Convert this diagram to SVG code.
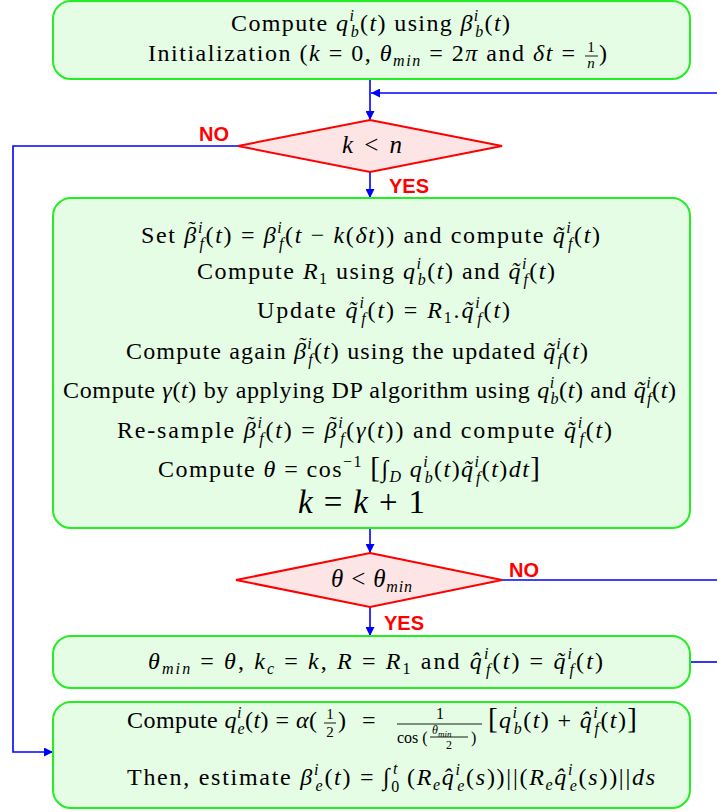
<svg xmlns="http://www.w3.org/2000/svg" width="717" height="812" viewBox="0 0 717 812">
<style>
.box{fill:#e5fde5;stroke:#22ee22;stroke-width:2}
.dia{fill:#fde5e5;stroke:#ff0000;stroke-width:2}
.con{fill:none;stroke:#0000ff;stroke-width:1.6}
.ts{font-family:"Liberation Serif","Times New Roman",serif;font-size:24px;fill:#000}
.i{font-style:italic}
.sm{font-size:16px}
.til{font-family:"Liberation Serif","Times New Roman",serif;font-size:22px;fill:#000;text-anchor:middle}
.lab{font-family:"Liberation Sans",Arial,sans-serif;font-size:20px;font-weight:bold;fill:#ff0000}
.fl{stroke:#000;stroke-width:0.9}
</style>
<defs>
<marker id="ah" viewBox="0 0 10 10" refX="10" refY="5" markerWidth="10" markerHeight="9" markerUnits="userSpaceOnUse" orient="auto">
<path d="M0,0 L10,5 L0,10 z" fill="#0000ff"/>
</marker>
</defs>

<g id="connectors">
<path class="con" d="M370,79 V120" marker-end="url(#ah)"/>
<path class="con" d="M717,93 H371" marker-end="url(#ah)"/>
<path class="con" d="M370,172 V198" marker-end="url(#ah)"/>
<path class="con" d="M238,146 H13 V752 H53" marker-end="url(#ah)"/>
<path class="con" d="M370,528 V553" marker-end="url(#ah)"/>
<path class="con" d="M502,580 H717"/>
<path class="con" d="M370,607 V636" marker-end="url(#ah)"/>
<path class="con" d="M690,662 H717"/>
</g>

<g id="init">
<rect class="box" x="53" y="1" width="637" height="78" rx="18"/>
<text class="ts" x="231" y="31" textLength="279" lengthAdjust="spacing">Compute <tspan class="i">q</tspan><tspan class="i sm" dy="-10">i</tspan><tspan class="i sm" dx="-4.5" dy="16">b</tspan><tspan dy="-6">(</tspan><tspan class="i">t</tspan>) using <tspan class="i">β</tspan><tspan class="i sm" dy="-10">i</tspan><tspan class="i sm" dx="-4.5" dy="16">b</tspan><tspan dy="-6">(</tspan><tspan class="i">t</tspan>)</text>
<text class="ts" x="148" y="61" textLength="427" lengthAdjust="spacing">Initialization (<tspan class="i">k</tspan> = 0, <tspan class="i">θ</tspan><tspan class="i sm" dy="5">min</tspan><tspan dy="-5"> = 2</tspan><tspan class="i">π</tspan> and <tspan class="i">δt</tspan> =</text>
<text class="ts" x="591" y="52" style="font-size:15px" text-anchor="middle">1</text>
<line class="fl" x1="585" y1="56" x2="598" y2="56"/>
<text class="ts i" x="591" y="68" style="font-size:15px" text-anchor="middle">n</text>
<text class="ts" x="599" y="61">)</text>
</g>

<g id="cond1">
<polygon class="dia" points="370,120 502,146 370,172 238,146"/>
<text class="ts" x="342" y="153" style="font-size:25px" textLength="60" lengthAdjust="spacing"><tspan class="i">k</tspan> &lt; <tspan class="i">n</tspan></text>
</g>
<text class="lab" x="199" y="141">NO</text>
<text class="lab" x="389" y="193">YES</text>

<g id="loop">
<rect class="box" x="53" y="198" width="637" height="330" rx="18"/>
<text class="ts" x="141" y="243" textLength="459" lengthAdjust="spacing">Set <tspan class="i">β</tspan><tspan class="i sm" dy="-10">i</tspan><tspan class="i sm" dx="-4.5" dy="16">f</tspan><tspan dy="-6">(</tspan><tspan class="i">t</tspan>) = <tspan class="i">β</tspan><tspan class="i sm" dy="-10">i</tspan><tspan class="i sm" dx="-4.5" dy="16">f</tspan><tspan dy="-6">(</tspan><tspan class="i">t</tspan> − <tspan class="i">k</tspan>(<tspan class="i">δt</tspan>)) and compute <tspan class="i">q̃</tspan><tspan class="i sm" dy="-10">i</tspan><tspan class="i sm" dx="-4.5" dy="16">f</tspan><tspan dy="-6">(</tspan><tspan class="i">t</tspan>)</text>
<text class="til" x="192" y="236">˜</text>
<text class="ts" x="197" y="279" textLength="358" lengthAdjust="spacing">Compute <tspan class="i">R</tspan><tspan class="sm" dy="5">1</tspan><tspan dy="-5"> using </tspan><tspan class="i">q</tspan><tspan class="i sm" dy="-10">i</tspan><tspan class="i sm" dx="-4.5" dy="16">b</tspan><tspan dy="-6">(</tspan><tspan class="i">t</tspan>) and <tspan class="i">q̃</tspan><tspan class="i sm" dy="-10">i</tspan><tspan class="i sm" dx="-4.5" dy="16">f</tspan><tspan dy="-6">(</tspan><tspan class="i">t</tspan>)</text>
<text class="ts" x="257" y="318" textLength="253" lengthAdjust="spacing">Update <tspan class="i">q̃</tspan><tspan class="i sm" dy="-10">i</tspan><tspan class="i sm" dx="-4.5" dy="16">f</tspan><tspan dy="-6">(</tspan><tspan class="i">t</tspan>) = <tspan class="i">R</tspan><tspan class="sm" dy="5">1</tspan><tspan dy="-5">.</tspan><tspan class="i">q̃</tspan><tspan class="i sm" dy="-10">i</tspan><tspan class="i sm" dx="-4.5" dy="16">f</tspan><tspan dy="-6">(</tspan><tspan class="i">t</tspan>)</text>
<text class="ts" x="126" y="359" textLength="462" lengthAdjust="spacing">Compute again <tspan class="i">β</tspan><tspan class="i sm" dy="-10">i</tspan><tspan class="i sm" dx="-4.5" dy="16">f</tspan><tspan dy="-6">(</tspan><tspan class="i">t</tspan>) using the updated <tspan class="i">q̃</tspan><tspan class="i sm" dy="-10">i</tspan><tspan class="i sm" dx="-4.5" dy="16">f</tspan><tspan dy="-6">(</tspan><tspan class="i">t</tspan>)</text>
<text class="til" x="303" y="352">˜</text>
<text class="ts" x="63" y="398" textLength="613" lengthAdjust="spacing">Compute <tspan class="i">γ</tspan>(<tspan class="i">t</tspan>) by applying DP algorithm using <tspan class="i">q</tspan><tspan class="i sm" dy="-10">i</tspan><tspan class="i sm" dx="-4.5" dy="16">b</tspan><tspan dy="-6">(</tspan><tspan class="i">t</tspan>) and <tspan class="i">q̃</tspan><tspan class="i sm" dy="-10">i</tspan><tspan class="i sm" dx="-4.5" dy="16">f</tspan><tspan dy="-6">(</tspan><tspan class="i">t</tspan>)</text>
<text class="ts" x="117" y="438" textLength="495" lengthAdjust="spacing">Re-sample <tspan class="i">β</tspan><tspan class="i sm" dy="-10">i</tspan><tspan class="i sm" dx="-4.5" dy="16">f</tspan><tspan dy="-6">(</tspan><tspan class="i">t</tspan>) = <tspan class="i">β</tspan><tspan class="i sm" dy="-10">i</tspan><tspan class="i sm" dx="-4.5" dy="16">f</tspan><tspan dy="-6">(</tspan><tspan class="i">γ</tspan>(<tspan class="i">t</tspan>)) and compute <tspan class="i">q̃</tspan><tspan class="i sm" dy="-10">i</tspan><tspan class="i sm" dx="-4.5" dy="16">f</tspan><tspan dy="-6">(</tspan><tspan class="i">t</tspan>)</text>
<text class="til" x="251" y="431">˜</text>
<text class="til" x="333" y="431">˜</text>
<text class="ts" x="158" y="477" textLength="382" lengthAdjust="spacing">Compute <tspan class="i">θ</tspan> = cos<tspan class="sm" dy="-10">−1</tspan><tspan dy="10"> </tspan><tspan font-size="29">[</tspan>∫<tspan class="i sm" dy="5">D</tspan><tspan dy="-5"> </tspan><tspan class="i">q</tspan><tspan class="i sm" dy="-10">i</tspan><tspan class="i sm" dx="-4.5" dy="16">b</tspan><tspan dy="-6">(</tspan><tspan class="i">t</tspan>)<tspan class="i">q̃</tspan><tspan class="i sm" dy="-10">i</tspan><tspan class="i sm" dx="-4.5" dy="16">f</tspan><tspan dy="-6">(</tspan><tspan class="i">t</tspan>)<tspan class="i">dt</tspan><tspan font-size="29">]</tspan></text>
<text class="ts" x="298" y="513" style="font-size:33px" textLength="127" lengthAdjust="spacing"><tspan class="i">k</tspan> = <tspan class="i">k</tspan> + 1</text>
</g>

<g id="cond2">
<polygon class="dia" points="370,553 502,580 370,607 236,580"/>
<text class="ts" x="331" y="587" style="font-size:25px" textLength="81" lengthAdjust="spacing"><tspan class="i">θ</tspan> &lt; <tspan class="i">θ</tspan><tspan class="i sm" dy="5">min</tspan></text>
</g>
<text class="lab" x="509" y="577">NO</text>
<text class="lab" x="384" y="630">YES</text>

<g id="update">
<rect class="box" x="53" y="636" width="637" height="52" rx="18"/>
<text class="ts" x="148" y="669" textLength="455" lengthAdjust="spacing"><tspan class="i">θ</tspan><tspan class="i sm" dy="5">min</tspan><tspan dy="-5"> = </tspan><tspan class="i">θ</tspan>, <tspan class="i">k</tspan><tspan class="i sm" dy="5">c</tspan><tspan dy="-5"> = </tspan><tspan class="i">k</tspan>, <tspan class="i">R</tspan> = <tspan class="i">R</tspan><tspan class="sm" dy="5">1</tspan><tspan dy="-5"> and </tspan><tspan class="i">q̂</tspan><tspan class="i sm" dy="-10">i</tspan><tspan class="i sm" dx="-4.5" dy="16">f</tspan><tspan dy="-6">(</tspan><tspan class="i">t</tspan>) = <tspan class="i">q̃</tspan><tspan class="i sm" dy="-10">i</tspan><tspan class="i sm" dx="-4.5" dy="16">f</tspan><tspan dy="-6">(</tspan><tspan class="i">t</tspan>)</text>
</g>

<g id="estimate">
<rect class="box" x="53" y="702" width="637" height="106" rx="18"/>
<text class="ts" x="127" y="728" textLength="190" lengthAdjust="spacing">Compute <tspan class="i">q</tspan><tspan class="i sm" dy="-10">i</tspan><tspan class="i sm" dx="-4.5" dy="16">e</tspan><tspan dy="-6">(</tspan><tspan class="i">t</tspan>) = <tspan class="i">α</tspan>(</text>
<text class="ts" x="330" y="719" style="font-size:15px" text-anchor="middle">1</text>
<line class="fl" x1="324" y1="723" x2="336" y2="723"/>
<text class="ts" x="330" y="737" style="font-size:15px" text-anchor="middle">2</text>
<text class="ts" x="338" y="728">)<tspan x="362">=</tspan></text>
<text class="ts" x="440" y="719" style="font-size:16px" text-anchor="middle">1</text>
<line class="fl" x1="397" y1="724" x2="482" y2="724"/>
<text class="ts" x="397" y="743" style="font-size:16px">cos (</text>
<text class="ts i" x="432" y="734" style="font-size:12px">θ<tspan dy="3" style="font-size:9px">min</tspan></text>
<line class="fl" x1="430" y1="737" x2="468" y2="737"/>
<text class="ts" x="449" y="749" style="font-size:12px" text-anchor="middle">2</text>
<text class="ts" x="471" y="743" style="font-size:16px">)</text>
<text class="ts" x="488" y="728" textLength="149" lengthAdjust="spacing"><tspan font-size="29">[</tspan><tspan class="i">q</tspan><tspan class="i sm" dy="-10">i</tspan><tspan class="i sm" dx="-4.5" dy="16">b</tspan><tspan dy="-6">(</tspan><tspan class="i">t</tspan>) + <tspan class="i">q̂</tspan><tspan class="i sm" dy="-10">i</tspan><tspan class="i sm" dx="-4.5" dy="16">f</tspan><tspan dy="-6">(</tspan><tspan class="i">t</tspan>)<tspan font-size="29">]</tspan></text>
<text class="ts" x="127" y="785" textLength="528" lengthAdjust="spacing">Then, estimate <tspan class="i">β</tspan><tspan class="i sm" dy="-10">i</tspan><tspan class="i sm" dx="-4.5" dy="16">e</tspan><tspan dy="-6">(</tspan><tspan class="i">t</tspan>) = ∫<tspan class="sm" dy="7">0</tspan><tspan class="i sm" dx="-8" dy="-18">t</tspan><tspan dy="11"> (</tspan><tspan class="i">R</tspan><tspan class="i sm" dy="5">e</tspan><tspan class="i" dy="-5">q̂</tspan><tspan class="i sm" dy="-10">i</tspan><tspan class="i sm" dx="-4.5" dy="16">e</tspan><tspan dy="-6">(</tspan><tspan class="i">s</tspan>))||(<tspan class="i">R</tspan><tspan class="i sm" dy="5">e</tspan><tspan class="i" dy="-5">q̂</tspan><tspan class="i sm" dy="-10">i</tspan><tspan class="i sm" dx="-4.5" dy="16">e</tspan><tspan dy="-6">(</tspan><tspan class="i">s</tspan>))||<tspan class="i">ds</tspan></text>
</g>
</svg>
